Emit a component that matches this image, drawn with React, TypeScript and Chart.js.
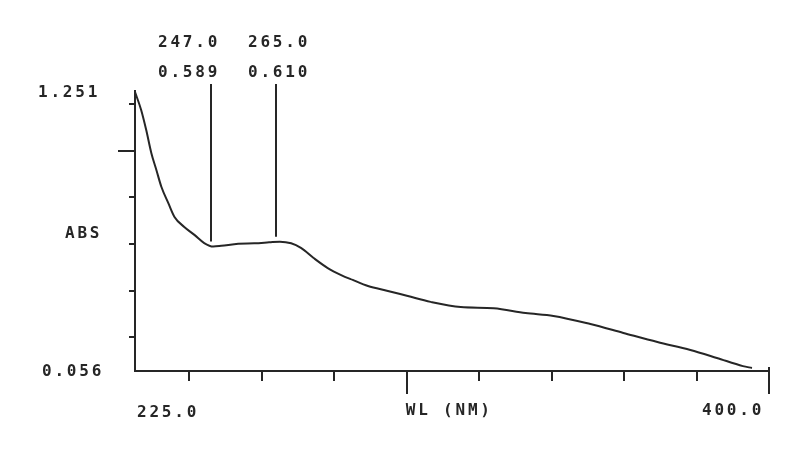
import { useEffect, useRef } from "react";
import { Chart, registerables } from "chart.js";

Chart.register(...registerables);

// ---- data ----
const wavelengthNm = [
  225.0, 226.7, 228.1, 229.5, 230.9, 232.3, 234.2, 235.9, 238.6, 241.4, 244.1, 246.6,
  248.8, 253.5, 257.9, 262.0, 265.0, 268.1, 270.8, 274.3, 278.2, 281.9, 285.1, 289.3,
  294.8, 300.3, 306.6, 314.9, 324.0, 332.8, 340.5, 350.7, 359.8, 369.2, 378.3, 385.6,
  392.8, 395.3,
];
const absorbance = [
  1.251, 1.174, 1.088, 0.99, 0.917, 0.844, 0.775, 0.716, 0.673, 0.639, 0.604, 0.589,
  0.592, 0.601, 0.603, 0.607, 0.61, 0.603, 0.583, 0.54, 0.497, 0.467, 0.446, 0.42,
  0.399, 0.377, 0.352, 0.33, 0.325, 0.304, 0.292, 0.257, 0.219, 0.18, 0.146, 0.112,
  0.077, 0.069,
];
const peakWavelengths = [247.0, 265.0];
const peakAbsorbances = [0.589, 0.61];
// where the plotter actually drew the marker lines
const markerLineNm = [246.0, 263.9];
const xTickValues = [240, 260, 280, 300, 320, 340, 360, 380, 400];
const xMajorTicks = [300, 400];
const yTickValues = [0.2, 0.4, 0.6, 0.8, 1.0, 1.2];
const yMajorTicks = [1.0];
const xMin = 225.0;
const xMax = 400.0;
const yMin = 0.056;
const yMax = 1.251;
const xAxisTitle = "WL (NM)";
const yAxisTitle = "ABS";

const INK = "#262626";
const FONT = "bold 16px 'DejaVu Sans Mono', 'Liberation Mono', monospace";

const spectrumPlugin = {
  id: "spectrumAxes",
  afterDraw(chart: any) {
    const ctx: CanvasRenderingContext2D = chart.ctx;
    const xs = chart.scales.x;
    const ys = chart.scales.y;
    const left = xs.getPixelForValue(xMin);
    const right = xs.getPixelForValue(xMax);
    const top = ys.getPixelForValue(yMax);
    const bottom = ys.getPixelForValue(yMin);

    ctx.save();
    ctx.strokeStyle = INK;
    ctx.lineWidth = 2;
    ctx.lineCap = "butt";

    // axes
    ctx.beginPath();
    ctx.moveTo(left, top - 2);
    ctx.lineTo(left, bottom);
    ctx.lineTo(right, bottom);
    ctx.stroke();

    // y ticks
    yTickValues.forEach((v) => {
      const py = Math.round(ys.getPixelForValue(v));
      const len = yMajorTicks.includes(v) ? 17 : 6;
      ctx.beginPath();
      ctx.moveTo(left - len, py);
      ctx.lineTo(left, py);
      ctx.stroke();
    });

    // x ticks
    xTickValues.forEach((v) => {
      const px = Math.round(xs.getPixelForValue(v));
      const major = xMajorTicks.includes(v);
      const len = major ? 23 : 10;
      const start = v === xMax ? bottom - 4 : bottom;
      ctx.beginPath();
      ctx.moveTo(px, start);
      ctx.lineTo(px, bottom + len);
      ctx.stroke();
    });

    // peak markers
    markerLineNm.forEach((wl, i) => {
      const px = Math.round(xs.getPixelForValue(wl));
      const py = ys.getPixelForValue(peakAbsorbances[i]);
      ctx.beginPath();
      ctx.moveTo(px, 84);
      ctx.lineTo(px, py - 5);
      ctx.stroke();
    });

    // texts
    ctx.fillStyle = INK;
    ctx.font = FONT;
    (ctx as any).letterSpacing = "2.8px";
    ctx.textBaseline = "middle";
    ctx.textAlign = "left";

    const peakTextLeft = [158, 248];
    peakWavelengths.forEach((wl, i) => {
      ctx.fillText(wl.toFixed(1), peakTextLeft[i], 43);
      ctx.fillText(peakAbsorbances[i].toFixed(3), peakTextLeft[i], 73);
    });

    ctx.fillText(yMax.toFixed(3), 38, top + 1);
    ctx.fillText(yMin.toFixed(3), 42, bottom + 1);
    ctx.fillText(yAxisTitle, 65, 234);

    ctx.fillText(xMin.toFixed(1), left + 2, 413);
    ctx.fillText(xAxisTitle, xs.getPixelForValue(300) - 1, 411);
    ctx.fillText(xMax.toFixed(1), right - 67, 411);

    ctx.restore();
  },
};

export default function App() {
  const canvasRef = useRef<HTMLCanvasElement | null>(null);

  useEffect(() => {
    if (!canvasRef.current) return;
    const points = wavelengthNm.map((x, i) => ({ x, y: absorbance[i] }));
    const chart = new Chart(canvasRef.current, {
      type: "line",
      data: {
        datasets: [
          {
            data: points,
            borderColor: INK,
            borderWidth: 2,
            pointRadius: 0,
            fill: false,
            cubicInterpolationMode: "monotone",
          },
        ],
      },
      options: {
        animation: false,
        responsive: false,
        maintainAspectRatio: false,
        layout: { padding: { left: 135, right: 31, top: 92, bottom: 79 } },
        plugins: {
          legend: { display: false },
          tooltip: { enabled: false },
        },
        scales: {
          x: { type: "linear", min: xMin, max: xMax, display: false },
          y: { type: "linear", min: yMin, max: yMax, display: false },
        },
      },
      plugins: [spectrumPlugin],
    });
    return () => chart.destroy();
  }, []);

  return (
    <div style={{ position: "fixed", left: 0, top: 0, width: 800, height: 450, background: "#fff" }}>
      <canvas ref={canvasRef} width={800} height={450} style={{ width: 800, height: 450 }} />
    </div>
  );
}
